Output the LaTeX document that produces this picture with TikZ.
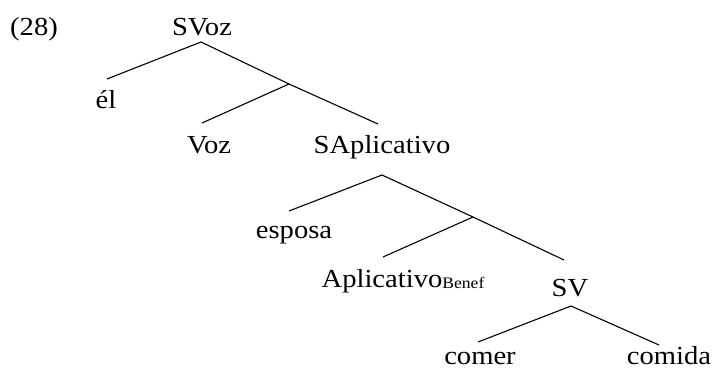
\documentclass[tikz,border=0pt]{standalone}
\usepackage{fontspec}
\setmainfont{Liberation Serif}[FakeStretch=1.1]
\begin{document}
\begin{tikzpicture}[x=1pt,y=-1pt,
  lbl/.style={inner sep=0pt,anchor=base,font=\fontsize{26}{30}\selectfont},
  branch/.style={line width=1.1pt}]
\useasboundingbox (0,0) rectangle (713,370);
% labels
\node[lbl,anchor=base west] (ex) at (10,35) {(28)};
\node[lbl] (SVoz) at (202,35) {SVoz};
\node[lbl] (el) at (106,108) {él};
\node[lbl] (Voz) at (209,153) {Voz};
\node[lbl] (SAp) at (382,153) {SAplicativo};
\node[lbl] (esposa) at (294,238) {esposa};
\node[lbl] (Ap) at (403,287) {Aplicativo\raisebox{-1pt}{\fontsize{16}{18}\selectfont Benef}};
\node[lbl] (SV) at (570,296) {SV};
\node[lbl] (comer) at (480,364) {comer};
\node[lbl] (comida) at (669,364) {comida};
% attachment points
\coordinate (SVoz-b) at (201,42);
\coordinate (el-t) at (107,79);
\coordinate (X1) at (289,84);
\coordinate (Voz-t) at (202,123);
\coordinate (SAp-t) at (378,124);
\coordinate (SAp-b) at (382,175);
\coordinate (esposa-t) at (289,211);
\coordinate (X2) at (473,217);
\coordinate (Ap-t) at (383,257);
\coordinate (SV-t) at (564,260);
\coordinate (SV-b) at (571,306);
\coordinate (comer-t) at (478,342);
\coordinate (comida-t) at (659,345);
% branches
\draw[branch] (el-t) -- (SVoz-b) -- (X1);
\draw[branch] (Voz-t) -- (X1) -- (SAp-t);
\draw[branch] (esposa-t) -- (SAp-b) -- (X2);
\draw[branch] (Ap-t) -- (X2) -- (SV-t);
\draw[branch] (comer-t) -- (SV-b) -- (comida-t);
\end{tikzpicture}
\end{document}
